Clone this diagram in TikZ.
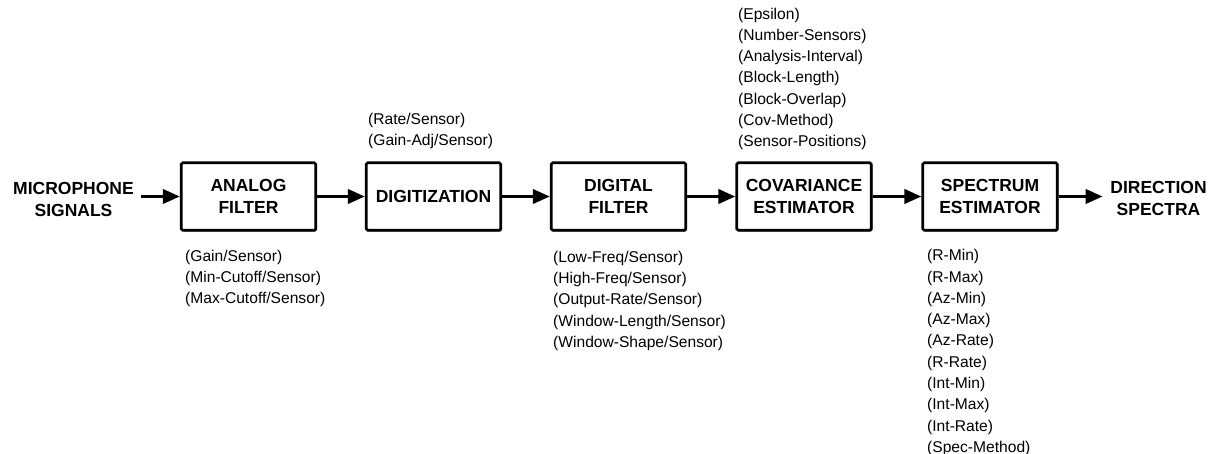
\documentclass[tikz,border=0pt]{standalone}
\usepackage{fontspec}
\setmainfont{Liberation Sans}
\usetikzlibrary{arrows.meta,shadows}

\begin{document}
\begin{tikzpicture}[x=1pt,y=-1pt,
  block/.style={draw, line width=2.6pt, fill=white, rounded corners=1.5pt,
    minimum width=134.5pt, minimum height=67.5pt, align=center, inner sep=0pt,
    font=\fontsize{17.5}{22}\selectfont\bfseries,
    drop shadow={shadow xshift=1.2pt, shadow yshift=-1.2pt, fill=black, opacity=1}},
  io/.style={align=center, inner xsep=7.5pt, inner ysep=0pt,
    font=\fontsize{17.5}{22}\selectfont\bfseries},
  params/.style={align=left, inner sep=0pt, font=\fontsize{15.6}{21.3}\selectfont},
  flow/.style={line width=3.6pt, -{Triangle[length=17pt,width=14pt]}}
]
\useasboundingbox (0,0) rectangle (1215,454);

% processing chain
\node[io] (mic) at (73.5,199) {MICROPHONE\\SIGNALS};
\node[block] (an)  at (248.5,196.5) {ANALOG\\FILTER};
\node[block] (dig) at (433.5,196.5) {DIGITIZATION};
\node[block] (df)  at (618.5,196.5) {DIGITAL\\FILTER};
\node[block] (cov) at (804,196.5) {COVARIANCE\\ESTIMATOR};
\node[block] (spe) at (990,196.5) {SPECTRUM\\ESTIMATOR};
\node[io] (dir) at (1158.5,198.5) {DIRECTION\\SPECTRA};

\draw[flow] (mic.east |- an.west) -- (an.west);
\draw[flow] (an.east) -- (dig.west);
\draw[flow] (dig.east) -- (df.west);
\draw[flow] (df.east) -- (cov.west);
\draw[flow] (cov.east) -- (spe.west);
\draw[flow] (spe.east) -- (spe.east -| dir.west);

% parameter lists
\node[params, anchor=north west] (anp) at (185,249.7)
  {(Gain/Sensor)\\(Min-Cutoff/Sensor)\\(Max-Cutoff/Sensor)};
\node[params, anchor=south west] (digp) at (368,149.3)
  {(Rate/Sensor)\\(Gain-Adj/Sensor)};
\node[params, anchor=north west] (dfp) at (553,250.7)
  {(Low-Freq/Sensor)\\(High-Freq/Sensor)\\(Output-Rate/Sensor)\\(Window-Length/Sensor)\\(Window-Shape/Sensor)};
\node[params, anchor=south west] (covp) at (738,150.3)
  {(Epsilon)\\(Number-Sensors)\\(Analysis-Interval)\\(Block-Length)\\(Block-Overlap)\\(Cov-Method)\\(Sensor-Positions)};
\node[params, anchor=north west] (spep) at (927,249.2)
  {(R-Min)\\(R-Max)\\(Az-Min)\\(Az-Max)\\(Az-Rate)\\(R-Rate)\\(Int-Min)\\(Int-Max)\\(Int-Rate)\\(Spec-Method)};
\end{tikzpicture}
\end{document}
